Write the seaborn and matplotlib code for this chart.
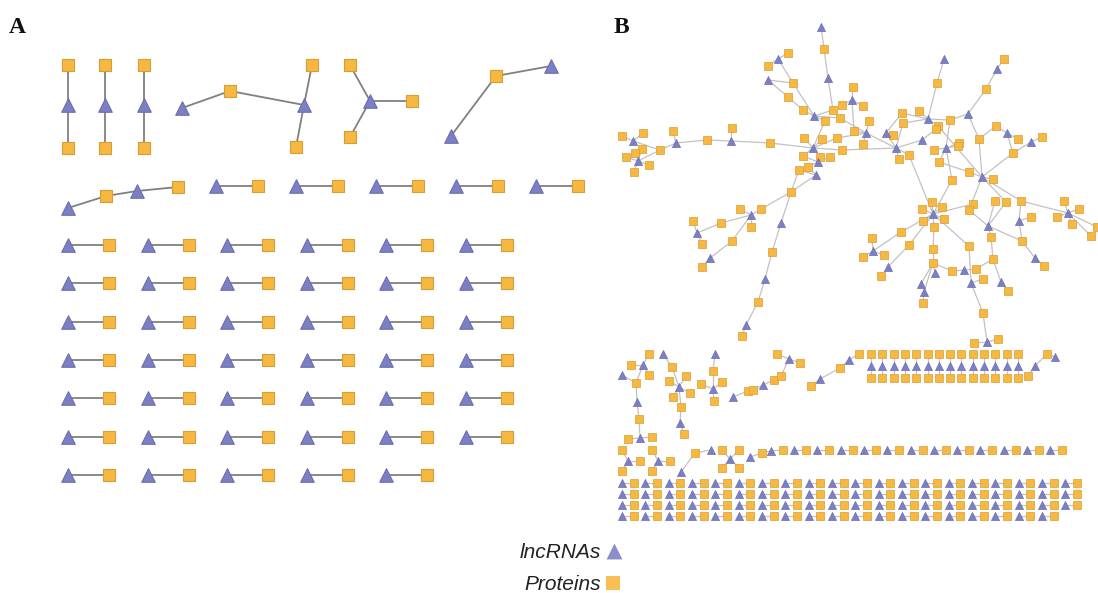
import matplotlib
matplotlib.use("Agg")
import matplotlib.pyplot as plt
import seaborn as sns
import pandas as pd
from matplotlib.collections import LineCollection

sns.set_theme(style="white")
plt.rcParams["font.family"] = ["Liberation Sans", "DejaVu Sans"]

W, H = 1098, 593
KIND = {"L": "lncRNAs", "P": "Proteins"}

# ------------------------------------------------------------------
# Panel A : small lncRNA–protein components (layout in pixel space)
# ------------------------------------------------------------------
a_column_x = [68, 105, 144]          # protein – lncRNA – protein columns
a_column_y = [65, 105, 148]

a_nodes = {
    "c4t1": (182, 108, "L"), "c4p1": (230, 91, "P"), "c4t2": (304, 105, "L"),
    "c4p2": (312, 65, "P"), "c4p3": (296, 147, "P"),
    "c5t": (370, 101, "L"), "c5p1": (350, 65, "P"), "c5p2": (412, 101, "P"),
    "c5p3": (350, 137, "P"),
    "c6t1": (451, 136, "L"), "c6p": (496, 76, "P"), "c6t2": (551, 66, "L"),
    "c7t1": (68, 208, "L"), "c7p1": (106, 196, "P"), "c7t2": (137, 191, "L"),
    "c7p2": (178, 187, "P"),
}
a_edges = [
    ("c4t1", "c4p1"), ("c4p1", "c4t2"), ("c4t2", "c4p2"), ("c4t2", "c4p3"),
    ("c5t", "c5p1"), ("c5t", "c5p2"), ("c5t", "c5p3"),
    ("c6t1", "c6p"), ("c6p", "c6t2"),
    ("c7t1", "c7p1"), ("c7p1", "c7t2"), ("c7t2", "c7p2"),
]
a_row_pairs = 5                          # single pairs beside the chain
a_grid_pairs = [6, 6, 6, 6, 6, 6, 5]     # pairs per grid row

# ------------------------------------------------------------------
# Panel B : the large connected network
# ------------------------------------------------------------------
b_core_nodes = {
    # left arm
    "p1": (622, 136, "P"), "t1": (633, 141, "L"), "p2": (643, 133, "P"),
    "p3": (642, 149, "P"), "p4": (635, 153, "P"), "p5": (626, 157, "P"),
    "t2": (638, 161, "L"), "p6": (649, 165, "P"), "p7": (634, 172, "P"),
    "p8": (660, 150, "P"), "t3": (676, 143, "L"), "p9": (673, 131, "P"),
    "p10": (707, 140, "P"), "t4": (731, 141, "L"), "p11": (732, 128, "P"),
    "p12": (770, 143, "P"),
    # upper left
    "p13": (788, 53, "P"), "t6": (778, 59, "L"), "p14": (768, 66, "P"),
    "t7": (768, 80, "L"), "p15": (793, 83, "P"), "p16": (788, 97, "P"),
    "p17": (803, 110, "P"), "t8": (814, 116, "L"), "p18": (833, 110, "P"),
    "p19": (825, 121, "P"), "p20": (840, 118, "P"), "t9": (821, 27, "L"),
    "p21": (824, 49, "P"), "t10": (828, 78, "L"),
    # centre
    "t5": (813, 148, "L"), "p22": (804, 138, "P"), "p23": (822, 139, "P"),
    "p24": (837, 138, "P"), "p25": (842, 150, "P"), "p26": (803, 156, "P"),
    "p27": (820, 157, "P"), "p28": (830, 157, "P"), "t11": (818, 162, "L"),
    "p29": (808, 167, "P"), "p30": (799, 170, "P"), "t12": (816, 175, "L"),
    "p31": (853, 87, "P"), "t13": (852, 100, "L"), "p32": (842, 105, "P"),
    "p33": (863, 106, "P"), "p34": (869, 121, "P"), "p35": (854, 131, "P"),
    "t14": (866, 133, "L"), "p36": (863, 144, "P"), "t15": (886, 133, "L"),
    "p37": (893, 135, "P"), "p38": (902, 113, "P"), "p39": (919, 111, "P"),
    "t16": (928, 119, "L"), "p40": (903, 123, "P"), "t17": (922, 140, "L"),
    "t18": (896, 148, "L"), "p41": (909, 155, "P"), "p42": (899, 159, "P"),
    # upper right
    "t19": (944, 59, "L"), "p43": (937, 83, "P"), "p44": (1004, 59, "P"),
    "t20": (997, 69, "L"), "p45": (986, 89, "P"), "t21": (968, 114, "L"),
    "p46": (950, 120, "P"), "p47": (938, 126, "P"), "p48": (936, 129, "P"),
    "p49": (996, 126, "P"), "t22": (1007, 133, "L"), "p50": (1018, 139, "P"),
    "p51": (1042, 137, "P"), "t23": (1031, 142, "L"), "p52": (1013, 153, "P"),
    "p53": (979, 139, "P"), "p54": (959, 143, "P"), "p55": (958, 146, "P"),
    "t24": (946, 148, "L"), "p56": (934, 150, "P"), "p57": (939, 162, "P"),
    "p58": (969, 172, "P"), "t25": (982, 177, "L"), "p59": (993, 179, "P"),
    "p60": (952, 180, "P"),
    # lower right
    "p61": (932, 202, "P"), "p62": (922, 209, "P"), "p63": (942, 207, "P"),
    "t26": (933, 214, "L"), "p64": (944, 219, "P"), "p65": (923, 221, "P"),
    "p66": (934, 227, "P"), "p67": (901, 232, "P"), "p68": (909, 245, "P"),
    "p69": (973, 204, "P"), "p70": (969, 210, "P"), "p71": (995, 201, "P"),
    "p72": (1006, 202, "P"), "p73": (1021, 201, "P"), "t27": (988, 226, "L"),
    "t28": (1019, 221, "L"), "p74": (1031, 217, "P"), "p75": (991, 237, "P"),
    "p76": (969, 246, "P"), "p77": (1022, 241, "P"), "t29": (1035, 258, "L"),
    "p78": (1044, 266, "P"), "p79": (993, 259, "P"), "p80": (933, 249, "P"),
    "p81": (933, 263, "P"), "t30": (935, 273, "L"), "t31": (921, 284, "L"),
    "t32": (924, 292, "L"), "p82": (923, 303, "P"), "p83": (952, 271, "P"),
    "t33": (964, 270, "L"), "p84": (976, 269, "P"), "t34": (971, 283, "L"),
    "p85": (983, 279, "P"), "t35": (1001, 282, "L"), "p86": (1008, 291, "P"),
    "p87": (983, 313, "P"), "p88": (974, 343, "P"), "t36": (987, 342, "L"),
    "p89": (998, 339, "P"), "p90": (1064, 201, "P"), "p91": (1079, 209, "P"),
    "t37": (1068, 213, "L"), "p92": (1057, 217, "P"), "p93": (1072, 224, "P"),
    "p94": (1097, 227, "P"), "p95": (1091, 236, "P"),
    "p108": (872, 238, "P"), "t44": (873, 251, "L"), "p109": (863, 257, "P"),
    "p110": (884, 255, "P"), "t45": (888, 267, "L"), "p111": (881, 276, "P"),
    # lower left
    "p96": (791, 192, "P"), "p97": (761, 209, "P"), "p98": (740, 209, "P"),
    "t38": (751, 215, "L"), "p99": (751, 227, "P"), "p100": (721, 223, "P"),
    "p101": (693, 221, "P"), "t39": (697, 233, "L"), "p102": (702, 244, "P"),
    "p103": (732, 241, "P"), "t40": (710, 258, "L"), "p104": (702, 267, "P"),
    "t41": (781, 223, "L"), "p105": (772, 252, "P"), "t42": (765, 279, "L"),
    "p106": (758, 302, "P"), "t43": (746, 325, "L"), "p107": (742, 336, "P"),
}
b_core_edges = [
    ("t1", "p1"), ("t1", "p2"), ("t1", "p8"), ("t2", "p3"), ("t2", "p4"),
    ("t2", "p5"), ("t2", "p6"), ("t2", "p7"), ("t2", "p8"), ("t3", "p8"),
    ("t3", "p9"), ("t3", "p10"), ("t4", "p10"), ("t4", "p11"), ("t4", "p12"),
    ("t5", "p12"),
    ("t6", "p13"), ("t6", "p14"), ("t6", "p15"), ("t7", "p15"), ("t7", "p16"),
    ("p16", "p17"), ("p17", "t8"), ("p15", "t8"), ("t9", "p21"), ("p21", "t10"),
    ("t10", "p18"), ("t8", "p18"), ("t8", "p19"), ("t8", "p20"), ("p20", "t14"),
    ("p19", "t5"),
    ("t5", "p22"), ("t5", "p23"), ("t5", "p24"), ("t5", "p25"), ("t11", "p26"),
    ("t11", "p27"), ("t11", "p28"), ("t11", "p29"), ("t5", "p26"), ("t12", "p29"),
    ("t12", "p30"), ("t12", "p96"), ("p30", "p96"),
    ("t13", "p31"), ("t13", "p32"), ("t13", "p33"), ("t13", "p35"), ("p35", "t14"),
    ("t14", "p34"), ("t14", "p36"), ("t14", "p24"), ("t14", "t18"), ("p25", "t18"),
    ("t15", "p37"), ("t15", "p38"), ("t15", "t18"),
    ("t16", "p38"), ("t16", "p39"), ("t16", "p40"), ("t16", "p46"), ("t16", "p47"),
    ("t16", "p43"), ("t18", "p40"), ("t18", "p41"), ("t18", "p42"), ("t17", "t18"),
    ("t17", "p48"), ("p41", "t26"),
    ("t19", "p43"), ("p44", "t20"), ("t20", "p45"), ("p45", "t21"), ("t21", "p46"),
    ("t21", "p53"), ("t24", "p46"), ("t24", "p56"), ("t24", "p54"), ("t24", "p60"),
    ("p47", "t25"), ("p49", "t22"), ("t22", "p50"), ("t22", "p52"), ("p52", "t23"),
    ("t23", "p51"), ("p53", "p49"), ("p53", "t25"), ("p52", "t25"), ("p57", "p58"),
    ("p58", "t25"), ("t25", "p59"), ("p55", "t24"), ("p57", "t24"),
    ("t26", "p61"), ("t26", "p62"), ("t26", "p63"), ("t26", "p64"), ("t26", "p65"),
    ("t26", "p66"), ("t26", "p67"), ("p67", "t44"), ("t26", "p68"), ("p68", "t45"),
    ("t45", "p111"), ("t44", "p108"), ("t44", "p109"), ("t44", "p110"),
    ("p66", "p80"), ("p80", "p81"), ("p81", "t30"), ("p81", "t31"), ("p81", "t32"),
    ("t32", "p82"), ("p81", "p83"), ("p83", "t33"), ("t33", "p84"), ("p84", "p79"),
    ("p79", "p75"), ("p75", "t27"), ("p79", "t35"), ("t35", "p86"),
    ("t27", "p70"), ("t27", "p71"), ("t27", "p72"), ("t27", "p77"),
    ("t26", "p69"), ("t26", "p76"), ("p76", "t34"), ("t34", "p85"), ("t34", "p87"),
    ("p87", "t36"), ("t36", "p88"), ("t36", "p89"),
    ("t25", "p70"), ("t25", "p72"), ("t25", "p73"), ("p60", "t26"),
    ("t28", "p73"), ("t28", "p74"), ("t28", "p77"), ("p77", "t29"), ("t29", "p78"),
    ("p73", "t37"), ("t37", "p90"), ("t37", "p91"), ("t37", "p92"), ("t37", "p93"),
    ("t37", "p94"), ("t37", "p95"),
    ("p96", "p97"), ("p97", "t38"), ("t38", "p98"), ("t38", "p99"), ("t38", "p100"),
    ("p100", "t39"), ("t39", "p101"), ("t39", "p102"), ("t38", "p103"),
    ("p103", "t40"), ("t40", "p104"), ("p96", "t41"), ("t41", "p105"),
    ("p105", "t42"), ("t42", "p106"), ("p106", "t43"), ("t43", "p107"),
]

# Panel B : smaller components below the main network
b_small_nodes = {
    "g1p1": (649, 354, "P"), "g1p2": (631, 365, "P"), "g1t1": (643, 365, "L"),
    "g1p3": (649, 375, "P"), "g1t2": (622, 375, "L"), "g1p4": (636, 383, "P"),
    "g1t3": (637, 402, "L"), "g1p5": (639, 419, "P"), "g1p6": (628, 439, "P"),
    "g1t4": (640, 438, "L"), "g1p7": (652, 437, "P"),
    "g2t1": (663, 354, "L"), "g2p1": (672, 367, "P"), "g2p2": (686, 376, "P"),
    "g2p3": (669, 381, "P"), "g2t2": (679, 387, "L"), "g2p4": (690, 393, "P"),
    "g2p5": (673, 397, "P"), "g2p6": (681, 407, "P"), "g2t3": (680, 423, "L"),
    "g2p7": (684, 434, "P"),
    "g3t1": (715, 354, "L"), "g3p1": (713, 371, "P"), "g3p2": (701, 384, "P"),
    "g3p3": (722, 382, "P"), "g3t2": (713, 389, "L"), "g3p4": (714, 401, "P"),
    "g4t1": (733, 397, "L"), "g4p1": (748, 391, "P"), "g4p2": (753, 390, "P"),
    "g4t2": (763, 385, "L"), "g4p3": (774, 380, "P"), "g4p4": (781, 376, "P"),
    "g4t3": (789, 359, "L"), "g4p5": (777, 354, "P"), "g4p6": (800, 363, "P"),
    "g5p1": (811, 386, "P"), "g5t1": (820, 379, "L"), "g5p2": (840, 368, "P"),
    "g5t2": (849, 360, "L"), "g5p3": (859, 354, "P"),
    "g7p1": (1028, 376, "P"), "g7t1": (1035, 366, "L"), "g7p2": (1047, 354, "P"),
    "g7t2": (1055, 357, "L"),
    "g8p1": (622, 450, "P"), "g8t": (628, 461, "L"), "g8p2": (640, 461, "P"),
    "g8p3": (622, 471, "P"),
    "g9p1": (652, 450, "P"), "g9t": (658, 461, "L"), "g9p2": (670, 461, "P"),
    "g9p3": (652, 471, "P"),
    "g10t1": (681, 472, "L"), "g10p": (695, 453, "P"), "g10t2": (711, 450, "L"),
    "g11p1": (722, 450, "P"), "g11p2": (739, 450, "P"), "g11t": (730, 459, "L"),
    "g11p3": (722, 468, "P"), "g11p4": (739, 468, "P"),
    "g12t1": (750, 457, "L"), "g12p1": (762, 453, "P"), "g12t2": (771, 451, "L"),
    "g12p2": (783, 450, "P"),
}
b_small_edges = [
    ("g1t1", "g1p1"), ("g1t1", "g1p2"), ("g1t1", "g1p3"), ("g1t1", "g1p4"),
    ("g1p4", "g1t2"), ("g1p4", "g1t3"), ("g1t3", "g1p5"), ("g1p5", "g1t4"),
    ("g1t4", "g1p6"), ("g1t4", "g1p7"),
    ("g2t1", "g2p1"), ("g2p1", "g2t2"), ("g2t2", "g2p2"), ("g2t2", "g2p3"),
    ("g2t2", "g2p4"), ("g2t2", "g2p5"), ("g2t2", "g2p6"), ("g2p6", "g2t3"),
    ("g2t3", "g2p7"),
    ("g3t1", "g3p1"), ("g3p1", "g3t2"), ("g3t2", "g3p2"), ("g3t2", "g3p3"),
    ("g3t2", "g3p4"),
    ("g4t1", "g4p1"), ("g4p1", "g4p2"), ("g4p2", "g4t2"), ("g4t2", "g4p3"),
    ("g4p3", "g4p4"), ("g4p4", "g4t3"), ("g4t3", "g4p5"), ("g4t3", "g4p6"),
    ("g5p1", "g5t1"), ("g5t1", "g5p2"), ("g5p2", "g5t2"), ("g5t2", "g5p3"),
    ("g7p1", "g7t1"), ("g7t1", "g7p2"), ("g7p2", "g7t2"),
    ("g8t", "g8p1"), ("g8t", "g8p2"), ("g8t", "g8p3"),
    ("g9t", "g9p1"), ("g9t", "g9p2"), ("g9t", "g9p3"),
    ("g10t1", "g10p"), ("g10p", "g10t2"),
    ("g11t", "g11p1"), ("g11t", "g11p2"), ("g11t", "g11p3"), ("g11t", "g11p4"),
    ("g12t1", "g12p1"), ("g12p1", "g12t2"), ("g12t2", "g12p2"),
]
b_triples = 14                        # protein – lncRNA – protein columns
b_row_pairs = 12                      # pairs on the y≈450 row
b_grid_pairs = [20, 20, 20, 19]       # pairs per bottom row

# ------------------------------------------------------------------
# assemble nodes / edges
# ------------------------------------------------------------------
rows, segs = [], {"A": [], "B": []}


def add_component(panel, nodes, edges):
    for key, (x, y, k) in nodes.items():
        rows.append({"panel": panel, "x": x, "y": y, "kind": KIND[k]})
    for u, v in edges:
        (x1, y1, _), (x2, y2, _) = nodes[u], nodes[v]
        segs[panel].append([(x1, y1), (x2, y2)])


def add_pair(panel, x_l, x_p, y):
    rows.append({"panel": panel, "x": x_l, "y": y, "kind": KIND["L"]})
    rows.append({"panel": panel, "x": x_p, "y": y, "kind": KIND["P"]})
    segs[panel].append([(x_l, y), (x_p, y)])


def add_triple(panel, x, ys):
    for y, k in zip(ys, "PLP"):
        rows.append({"panel": panel, "x": x, "y": y, "kind": KIND[k]})
    segs[panel].append([(x, ys[0]), (x, ys[2])])


# panel A
for x in a_column_x:
    add_triple("A", x, a_column_y)
add_component("A", a_nodes, a_edges)
for i in range(a_row_pairs):
    add_pair("A", 216 + 80.0 * i, 258 + 80.0 * i, 186)
for r, n in enumerate(a_grid_pairs):
    for i in range(n):
        add_pair("A", 68 + 79.6 * i, 109 + 79.6 * i, 245 + 38.33 * r)

# panel B
add_component("B", b_core_nodes, b_core_edges)
add_component("B", b_small_nodes, b_small_edges)
for i in range(b_triples):
    add_triple("B", 871 + 11.3 * i, [354, 366, 378])
for i in range(b_row_pairs):
    add_pair("B", 794 + 23.3 * i, 806 + 23.3 * i, 450)
for r, n in enumerate(b_grid_pairs):
    for i in range(n):
        add_pair("B", 622 + 23.33 * i, 633.7 + 23.33 * i, 483 + 11.1 * r)

nodes = pd.DataFrame(rows)

# ------------------------------------------------------------------
# drawing
# ------------------------------------------------------------------
fig = plt.figure(figsize=(W / 100, H / 100), dpi=100)
ax = fig.add_axes([0, 0, 1, 1])

ax.add_collection(LineCollection(segs["A"], colors="#808080", linewidths=1.3, zorder=1))
ax.add_collection(LineCollection(segs["B"], colors="#c2c2c2", linewidths=0.9, zorder=1))

style = {
    "lncRNAs": dict(marker="^", color="#7c80c2", edgecolor="#6a6eb2"),
    "Proteins": dict(marker="s", color="#f6b841", edgecolor="#d99d35"),
}
sizes = {("A", "lncRNAs"): 95, ("A", "Proteins"): 78,
         ("B", "lncRNAs"): 34, ("B", "Proteins"): 28}

for (panel, kind), sub in nodes.groupby(["panel", "kind"]):
    sns.scatterplot(data=sub, x="x", y="y", s=sizes[(panel, kind)],
                    linewidth=0.8 if panel == "A" else 0.5,
                    ax=ax, zorder=3, legend=False, **style[kind])

# legend
legend = pd.DataFrame({"x": [614, 613], "y": [551, 583], "kind": ["lncRNAs", "Proteins"]})
for _, r in legend.iterrows():
    sns.scatterplot(x=[r.x], y=[r.y], s=130 if r.kind == "lncRNAs" else 105,
                    linewidth=0, ax=ax, zorder=3, legend=False,
                    marker=style[r.kind]["marker"],
                    color="#8a8ecb" if r.kind == "lncRNAs" else "#f8bd55")
    ax.text(601, r.y + 7, r.kind, ha="right", va="baseline",
            fontstyle="italic", fontsize=15, color="#222222")

# panel letters
for letter, x in (("A", 9), ("B", 614)):
    ax.text(x, 33, letter, fontfamily="Liberation Serif", fontweight="bold",
            fontsize=17, color="#111111", ha="left", va="baseline")

ax.set_xlim(0, W)
ax.set_ylim(H, 0)
ax.axis("off")
fig.savefig("out.png", dpi=100, facecolor="white")
